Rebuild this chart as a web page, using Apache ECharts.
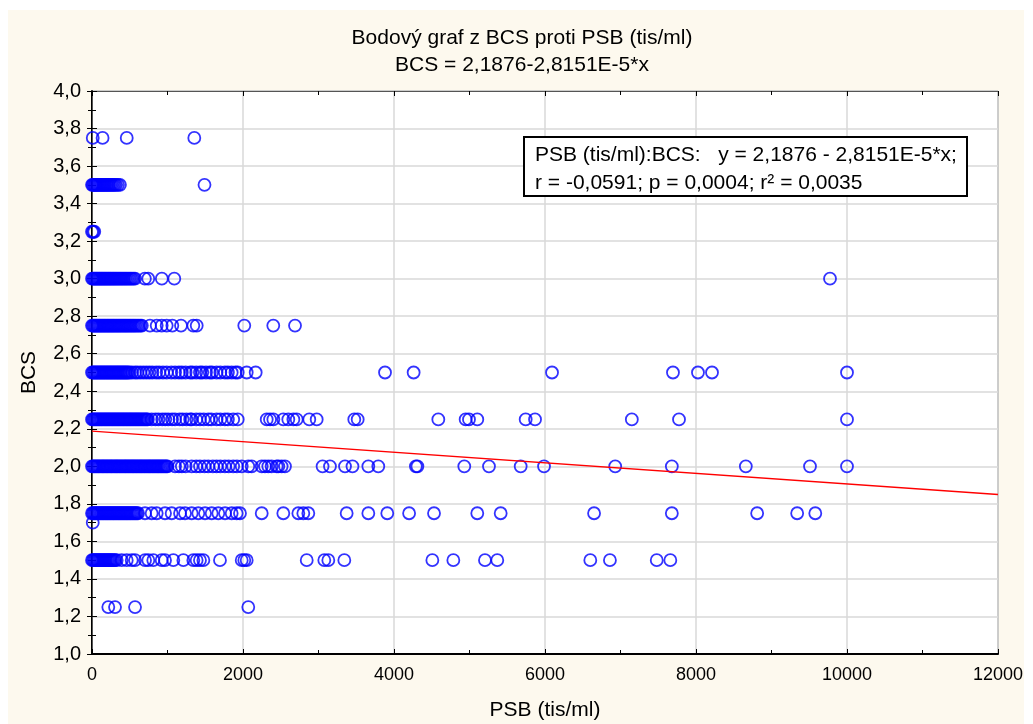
<!DOCTYPE html>
<html>
<head>
<meta charset="utf-8">
<script src="https://cdn.jsdelivr.net/npm/echarts@6/dist/echarts.min.js"></script>
<style>
  html, body { margin: 0; padding: 0; background: #ffffff; }
  #chart { position: absolute; left: 8px; top: 10px; width: 1016px; height: 714px; }
</style>
</head>
<body>
<div id="chart"></div>
<script>
// PSB (tis/ml) values, grouped by BCS level
var bcsLevels = [3.75, 3.5, 3.25, 3.0, 2.75, 2.5, 2.25, 2.0, 1.75, 1.7, 1.5, 1.25];

var psbAt375 = [10, 140, 460, 1355];
var psbAt350 = [0, 12, 25, 38, 50, 63, 76, 90, 104, 118, 132, 146, 160, 175, 190, 205, 220, 236, 252,
  268, 285, 302, 320, 345, 370, 1490];
var psbAt325 = [0, 15, 30];
var psbAt300 = [0, 13, 27, 40, 54, 67, 81, 95, 108, 122, 136, 150, 164, 178, 192, 207, 221, 236, 250,
  265, 280, 295, 310, 326, 342, 358, 374, 390, 407, 424, 441, 458, 476, 494, 512, 530, 550, 570, 700,
  745, 925, 1090, 9775];
var psbAt275 = [0, 14, 28, 42, 56, 70, 84, 98, 112, 127, 141, 156, 170, 185, 200, 214, 229, 244, 259,
  274, 289, 304, 320, 335, 351, 366, 382, 398, 414, 430, 446, 462, 478, 495, 512, 529, 546, 563, 581,
  600, 620, 640, 660, 768, 857, 923, 989, 1064, 1179, 1342, 1387, 2017, 2401, 2689];
var psbAt250 = [0, 15, 31, 46, 62, 77, 93, 108, 124, 139, 155, 170, 186, 201, 217, 232, 248, 263, 279,
  294, 310, 325, 341, 356, 372, 387, 403, 418, 434, 449, 465, 480, 500, 530, 570, 600, 640, 680, 720,
  760, 800, 850, 890, 940, 990, 1050, 1100, 1150, 1190, 1240, 1300, 1330, 1380, 1430, 1460, 1510, 1560,
  1590, 1650, 1700, 1760, 1800, 1850, 1900, 1930, 2049, 2168, 3881, 4260, 6093, 7695, 8026, 8212, 10000];
var psbAt225 = [0, 14, 29, 43, 58, 72, 87, 101, 116, 130, 145, 160, 174, 189, 203, 218, 232, 247, 262,
  276, 291, 305, 320, 335, 349, 364, 378, 393, 408, 422, 437, 452, 466, 481, 496, 510, 525, 540, 555,
  570, 585, 600, 615, 630, 646, 662, 678, 694, 710, 725, 740, 790, 840, 880, 930, 970, 1010, 1060, 1100,
  1160, 1200, 1250, 1300, 1320, 1380, 1430, 1480, 1540, 1580, 1650, 1700, 1760, 1800, 1870, 1930, 2314,
  2358, 2402, 2534, 2600, 2667, 2711, 2878, 2976, 3474, 3519, 4587, 4949, 4993, 5103, 5744, 5868, 7150,
  7775, 10000];
var psbAt200 = [0, 14, 30, 45, 60, 76, 90, 105, 122, 138, 152, 168, 185, 200, 215, 232, 248, 262, 278,
  295, 310, 326, 340, 357, 372, 388, 404, 420, 436, 450, 466, 482, 498, 514, 530, 545, 560, 577, 592,
  608, 624, 640, 655, 670, 687, 702, 718, 734, 750, 765, 780, 797, 812, 828, 844, 860, 875, 890, 907,
  922, 938, 954, 970, 985, 1000, 1100, 1150, 1190, 1240, 1320, 1380, 1430, 1490, 1540, 1600, 1650, 1700,
  1760, 1810, 1870, 1920, 1983, 2070, 2115, 2248, 2291, 2335, 2379, 2446, 2468, 2512, 2556, 3054, 3152,
  3351, 3450, 3660, 3792, 4290, 4310, 4931, 5258, 5678, 5987, 6930, 7680, 8660, 9510, 10000];
var psbAt175 = [0, 14, 28, 43, 57, 71, 86, 100, 115, 129, 144, 158, 173, 187, 202, 216, 231, 245, 260,
  275, 289, 304, 319, 334, 349, 363, 378, 393, 408, 423, 438, 453, 468, 483, 499, 514, 530, 546, 562,
  578, 594, 610, 702, 790, 857, 967, 1055, 1166, 1232, 1320, 1408, 1497, 1585, 1673, 1762, 1850, 1916,
  1960, 2248, 2534, 2733, 2799, 2865, 3373, 3660, 3911, 4200, 4530, 5103, 5413, 6650, 7680, 8810, 9340,
  9580];
var psbAt170 = [10];
var psbAt150 = [0, 14, 28, 42, 57, 71, 85, 100, 114, 128, 142, 157, 171, 185, 200, 214, 228, 243, 258,
  274, 290, 306, 327, 393, 460, 526, 570, 702, 746, 812, 923, 967, 1077, 1210, 1342, 1386, 1430, 1475,
  1695, 1983, 2017, 2049, 2844, 3077, 3130, 3342, 4508, 4786, 5205, 5368, 6600, 6860, 7480, 7660];
var psbAt125 = [216, 305, 570, 2070];

var psbGroups = [psbAt375, psbAt350, psbAt325, psbAt300, psbAt275, psbAt250, psbAt225, psbAt200,
  psbAt175, psbAt170, psbAt150, psbAt125];

// fitted line BCS = a + b*PSB
var fitIntercept = 2.1876;
var fitSlope = -2.8151e-5;
var xTicks = [0, 2000, 4000, 6000, 8000, 10000, 12000];

var points = [];
psbGroups.forEach(function (group, i) {
  group.forEach(function (psb) {
    points.push([psb, bcsLevels[i]]);
  });
});

var xMin = xTicks[0], xMax = xTicks[xTicks.length - 1];
var fitLine = [
  [xMin, fitIntercept + fitSlope * xMin],
  [xMax, fitIntercept + fitSlope * xMax]
];

var font = "'Liberation Sans', Arial, sans-serif";
var fontSize = 21;
var myChart = echarts.init(document.getElementById("chart"));

myChart.setOption({
  backgroundColor: "#fdf9ee",
  animation: false,
  textStyle: { fontFamily: font },
  title: {
    text: "Bodový graf z BCS proti PSB (tis/ml)\nBCS = 2,1876-2,8151E-5*x",
    left: 509,
    top: 10,
    textAlign: "center",
    textStyle: {
      fontFamily: font,
      fontSize: fontSize,
      fontWeight: "normal",
      color: "#000",
      lineHeight: 27
    }
  },
  grid: {
    left: 84,
    right: 26,
    top: 81,
    bottom: 70,
    outerBoundsMode: "none",
    show: true,
    backgroundColor: "#ffffff",
    borderColor: "#555",
    borderWidth: 1
  },
  xAxis: [
    {
      type: "value",
      min: xMin,
      max: xMax,
      interval: 2000,
      name: "PSB (tis/ml)",
      nameLocation: "middle",
      nameGap: 46,
      nameTextStyle: { fontFamily: font, fontSize: fontSize, color: "#000" },
      axisLine: { lineStyle: { color: "#000", width: 2 } },
      axisTick: { inside: true, length: 5, lineStyle: { color: "#000" } },
      minorTick: { show: true, splitNumber: 2, length: 4, lineStyle: { color: "#000" } },
      axisLabel: {
        margin: 12,
        fontFamily: font,
        fontSize: 18,
        color: "#000",
        formatter: function (v) { return String(v); }
      },
      splitLine: { lineStyle: { color: "#d9d9d9", width: 1.5 } }
    },
    {
      type: "value",
      position: "top",
      min: xMin,
      max: xMax,
      interval: 2000,
      axisLine: { lineStyle: { color: "#555", width: 1 } },
      axisTick: { inside: true, length: 5, lineStyle: { color: "#000" } },
      minorTick: { show: true, splitNumber: 2, length: 4, lineStyle: { color: "#000" } },
      axisLabel: { show: false },
      splitLine: { show: false }
    }
  ],
  yAxis: [
    {
      type: "value",
      min: 1,
      max: 4,
      interval: 0.2,
      name: "BCS",
      nameLocation: "middle",
      nameGap: 52,
      nameTextStyle: { fontFamily: font, fontSize: fontSize, color: "#000" },
      axisLine: { show: true, lineStyle: { color: "#000", width: 2 } },
      axisTick: { show: true, inside: true, length: 5, lineStyle: { color: "#000" } },
      minorTick: { show: true, splitNumber: 2, length: 4, lineStyle: { color: "#000" } },
      axisLabel: {
        margin: 11,
        fontFamily: font,
        fontSize: 20,
        color: "#000",
        formatter: function (v) { return v.toFixed(1).replace(".", ","); }
      },
      splitLine: { lineStyle: { color: "#d9d9d9", width: 1.5 } }
    },
    {
      type: "value",
      position: "right",
      min: 1,
      max: 4,
      interval: 0.2,
      axisLine: { show: true, lineStyle: { color: "#555", width: 1 } },
      axisTick: { show: true, inside: true, length: 5, lineStyle: { color: "#000" } },
      minorTick: { show: true, splitNumber: 2, length: 4, lineStyle: { color: "#000" } },
      axisLabel: { show: false },
      splitLine: { show: false }
    }
  ],
  series: [
    {
      type: "scatter",
      xAxisIndex: 0,
      yAxisIndex: 0,
      symbol: "circle",
      symbolSize: 12,
      itemStyle: { color: "rgba(0,0,0,0)", borderColor: "#0000ff", borderWidth: 1.8 },
      data: points
    },
    {
      type: "line",
      xAxisIndex: 0,
      yAxisIndex: 0,
      symbol: "none",
      lineStyle: { color: "#ff0000", width: 1.3 },
      data: fitLine
    }
  ],
  graphic: [
    {
      type: "rect",
      left: 515,
      top: 126,
      shape: { width: 443, height: 59 },
      style: { fill: "#ffffff", stroke: "#000", lineWidth: 2 },
      z: 100
    },
    {
      type: "text",
      left: 527,
      top: 131,
      style: {
        text: "PSB (tis/ml):BCS:   y = 2,1876 - 2,8151E-5*x;\nr = -0,0591; p = 0,0004; r² = 0,0035",
        font: fontSize + "px " + font,
        fill: "#000",
        lineHeight: 28
      },
      z: 101
    }
  ]
});
</script>
</body>
</html>
